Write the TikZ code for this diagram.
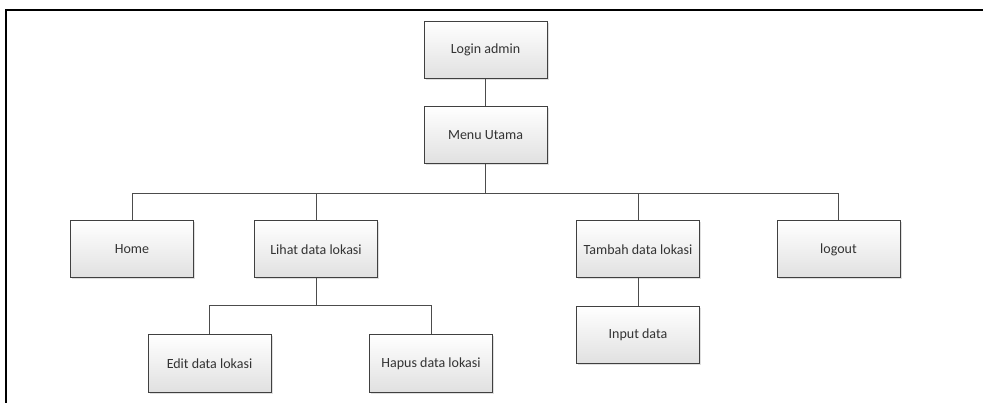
\documentclass[tikz,border=0pt]{standalone}
\usepackage{fontspec}
\setmainfont{Carlito}
\usetikzlibrary{shadows}

\begin{document}
\begin{tikzpicture}[x=1pt, y=-1pt,
        menubox/.style={draw=black!75, line width=1pt, top color=white, bottom color=black!12,
            minimum width=123pt, minimum height=57pt, inner sep=1pt,
            font=\fontsize{14}{16}\selectfont, text=black!80,
            drop shadow={shadow xshift=1.5pt, shadow yshift=-1.5pt, opacity=0.25}},
        link/.style={draw=black!70, line width=1pt}]
        \useasboundingbox (0,0) rectangle (983,403);
        \draw[line width=2pt] (6,403) -- (6,10) -- (983,10);

        % Top of the menu tree
        \node[menubox] (login) at (485.5,50) {Login admin};
        \node[menubox] (menu) at (485.5,135) {Menu Utama};

        % Main menu items
        \node[menubox] (home) at (132,249.5) {Home};
        \node[menubox] (lihat) at (316,249.5) {Lihat data lokasi};
        \node[menubox] (tambah) at (638,249.5) {Tambah data lokasi};
        \node[menubox] (logout) at (838.5,249.5) {logout};

        % Sub items
        \node[menubox] (edit) at (209.5,363.5) {Edit data lokasi};
        \node[menubox] (hapus) at (431,363.5) {Hapus data lokasi};
        \node[menubox] (input) at (638,335) {Input data};

        \coordinate (bus) at (485.5,194);
        \coordinate (subbus) at (316,306);

        \draw[link] (login) -- (menu);
        \draw[link] (menu) -- (bus);
        \draw[link] (bus) -| (home);
        \draw[link] (bus) -| (lihat);
        \draw[link] (bus) -| (tambah);
        \draw[link] (bus) -| (logout);
        \draw[link] (lihat) -- (subbus);
        \draw[link] (subbus) -| (edit);
        \draw[link] (subbus) -| (hapus);
        \draw[link] (tambah) -- (input);
    \end{tikzpicture}
\end{document}
